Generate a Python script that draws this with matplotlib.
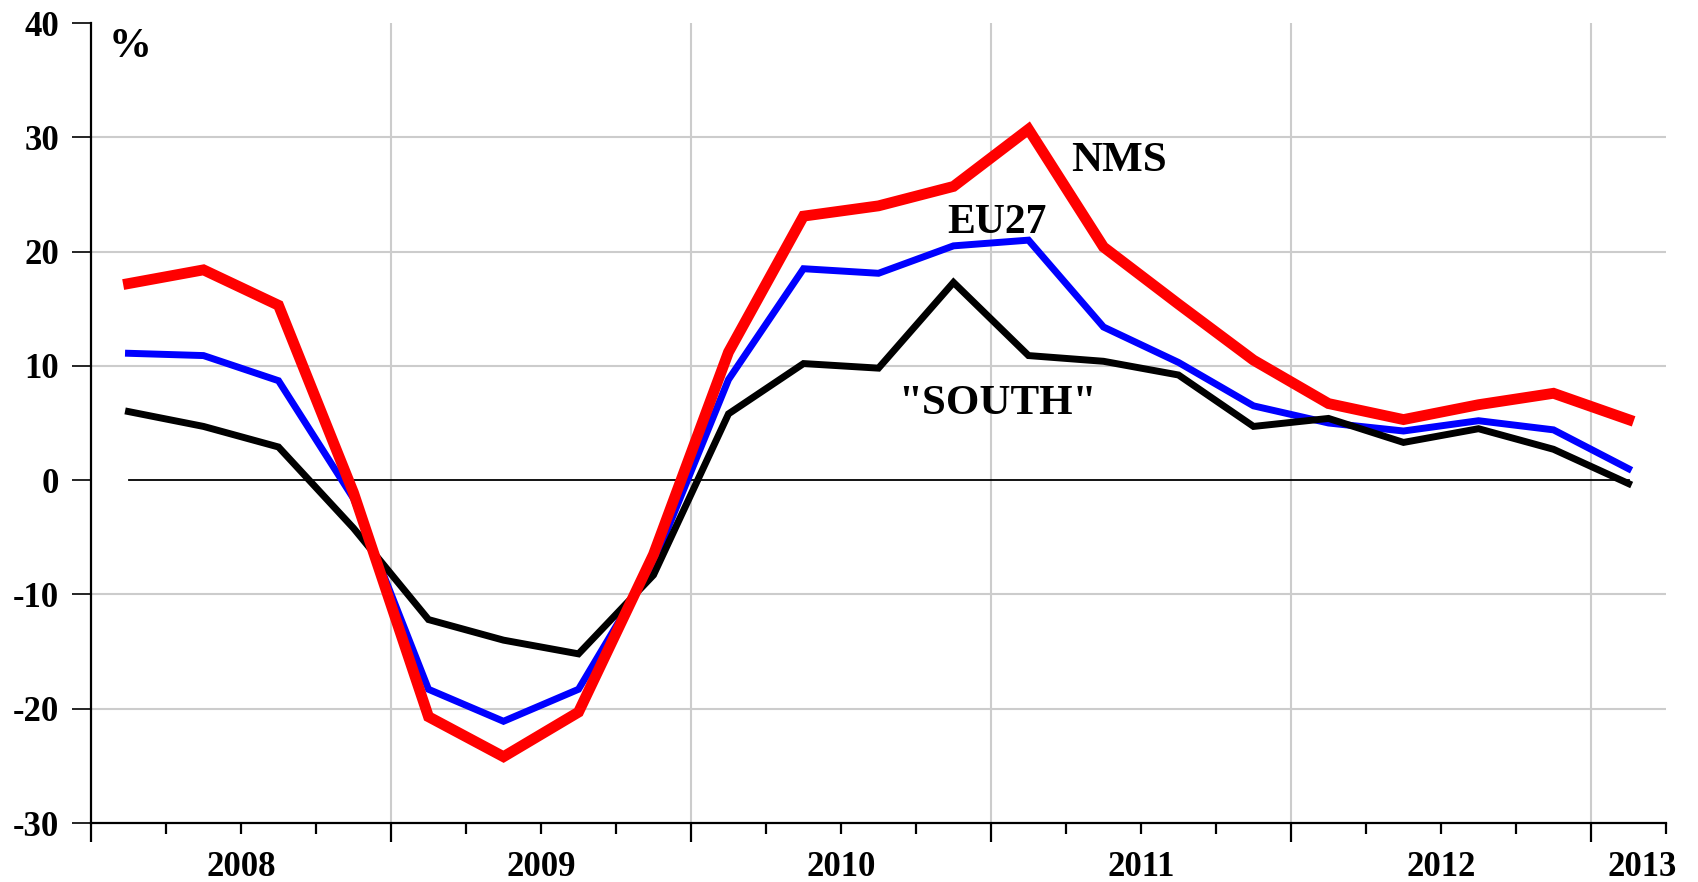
import matplotlib
matplotlib.use("Agg")
import matplotlib.pyplot as plt
import matplotlib.transforms as mtransforms
import numpy as np

plt.rcParams['font.family'] = ['Liberation Serif', 'DejaVu Serif']
plt.rcParams['font.weight'] = 'bold'

# Quarterly data 2008Q1 .. 2013Q1 (% change)
quarters = np.arange(21) + 0.5
nms = [17.2, 18.4, 15.3, -1.1, -20.7, -24.2, -20.3, -6.5, 11.2, 23.1, 24.0, 25.7,
       30.7, 20.4, 15.4, 10.5, 6.7, 5.3, 6.6, 7.6, 5.3]
eu27 = [11.1, 10.9, 8.7, -1.6, -18.3, -21.1, -18.3, -7.3, 8.8, 18.5, 18.1, 20.5,
        21.0, 13.4, 10.3, 6.5, 5.0, 4.3, 5.2, 4.4, 1.0]
south = [6.0, 4.7, 2.9, -4.2, -12.2, -14.0, -15.2, -8.3, 5.8, 10.2, 9.8, 17.3,
         10.9, 10.4, 9.2, 4.7, 5.4, 3.3, 4.5, 2.7, -0.3]
zero_line = [0.0] * 21

year_labels = ['2008', '2009', '2010', '2011', '2012', '2013']
year_label_pos = [2, 6, 10, 14, 18, 20.68]
yticks = [-30, -20, -10, 0, 10, 20, 30, 40]

fig = plt.figure(figsize=(16.98, 8.82), dpi=100)
ax = fig.add_axes([91/1698, 59/882, (1666-91)/1698, (823-23)/882])

ax.set_xlim(0, 21)
ax.set_ylim(-30, 40)

# grid
for yv in [-20, -10, 10, 20, 30]:
    ax.axhline(yv, color='#cccccc', lw=1.5, zorder=0)
for xv in [4, 8, 12, 16, 20]:
    ax.axvline(xv, color='#cccccc', lw=1.5, zorder=0)

ax.plot(quarters, zero_line, color='black', lw=1.3, zorder=1)
ax.plot(quarters, south, color='black', lw=5, zorder=3, solid_joinstyle='miter')
ax.plot(quarters, eu27, color='#0000ff', lw=5, zorder=2, solid_joinstyle='miter')
ax.plot(quarters, nms, color='#ff0000', lw=7.8, zorder=4, solid_joinstyle='miter')

for s in ['top', 'right']:
    ax.spines[s].set_visible(False)
for s in ['left', 'bottom']:
    ax.spines[s].set_linewidth(1.6)

ax.set_yticks(yticks)
ax.set_yticklabels([str(v) for v in yticks], fontsize=25, fontweight='bold')
ax.tick_params(axis='y', length=14, width=1.2, pad=9, direction='out')

ax.set_xticks([0, 4, 8, 12, 16, 20])
ax.set_xticklabels([])
ax.set_xticks([q for q in range(1, 22) if q % 4 != 0], minor=True)
ax.tick_params(axis='x', which='major', length=14, width=1.6, direction='out')
ax.tick_params(axis='x', which='minor', length=8, width=1.6, direction='out')

trans = mtransforms.blended_transform_factory(ax.transData, ax.transAxes)
for lab, pos in zip(year_labels, year_label_pos):
    ax.text(pos, -45/800, lab, transform=trans, ha='center', va='center',
            fontsize=25, fontweight='bold')

ax.text(0.52, 37.9, '%', ha='center', va='center', fontsize=31, fontweight='bold')
ax.text(13.7, 27.9, 'NMS', ha='center', va='center', fontsize=31, fontweight='bold')
ax.text(12.08, 22.5, 'EU27', ha='center', va='center', fontsize=30, fontweight='bold')
ax.text(12.08, 6.7, '"SOUTH"', ha='center', va='center', fontsize=31, fontweight='bold')

fig.savefig('out.png', dpi=100)
